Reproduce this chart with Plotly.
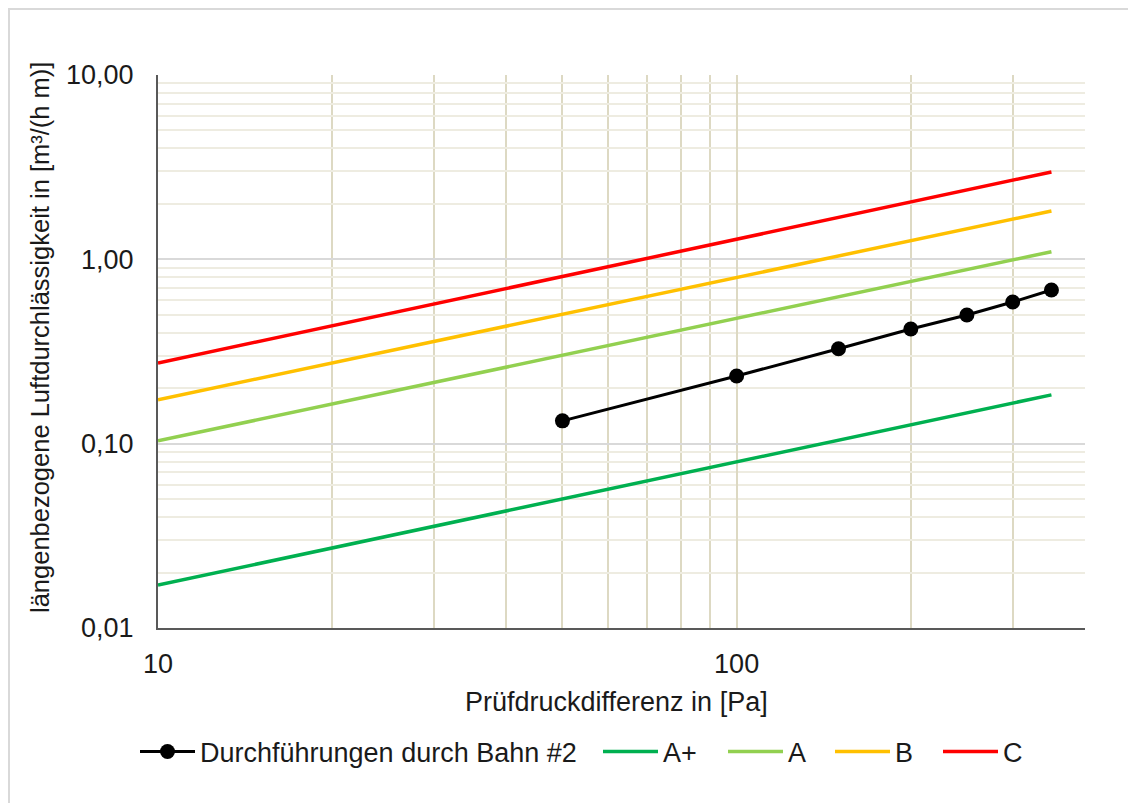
import plotly.graph_objects as go

# ---- data ----
pressure = [50, 100, 150, 200, 250, 300, 350]
durchfuehrungen = [0.133, 0.233, 0.327, 0.419, 0.499, 0.587, 0.682]

class_x = [10, 350]
class_aplus = [0.0171, 0.184]
class_a = [0.1035, 1.10]
class_b = [0.173, 1.83]
class_c = [0.274, 2.98]

series_names = ["Durchführungen durch Bahn #2", "A+", "A", "B", "C"]
series_colors = ["#000000", "#00B050", "#92D050", "#FFC000", "#FF0000"]

x_tickvals = [10, 100]
x_ticktext = ["10", "100"]
y_tickvals = [0.01, 0.1, 1, 10]
y_ticktext = ["0,01", "0,10", "1,00", "10,00"]

x_title = "Prüfdruckdifferenz in [Pa]"
y_title = "längenbezogene Luftdurchlässigkeit in [m³/(h m)]"

FONT = "Liberation Sans, Arial, sans-serif"
TXT = "#1a1a1a"

# page body has an 8px margin: work in window pixels and shift
OFF = 8
W, H = 1136 - OFF, 803 - OFF
PL, PR, PT, PB = 158, 1085, 75, 628          # plot area in window pixels
L, T = PL - OFF, PT - OFF
R, B = W - (PR - OFF), H - (PB - OFF)
pw, ph = PR - PL, PB - PT


def px(x):
    return (x - PL) / pw


def py(y):
    return (PB - y) / ph


legend_ids = ["legend", "legend2", "legend3", "legend4", "legend5"]
legend_starts = [140, 603, 728, 835, 943]      # window px of legend symbols

fig = go.Figure()
fig.add_trace(go.Scatter(x=pressure, y=durchfuehrungen, name=series_names[0],
                         mode="lines+markers", legend=legend_ids[0],
                         line=dict(color=series_colors[0], width=3),
                         marker=dict(size=15, color=series_colors[0])))
for name, col, ys, lg in zip(series_names[1:], series_colors[1:],
                             [class_aplus, class_a, class_b, class_c],
                             legend_ids[1:]):
    fig.add_trace(go.Scatter(x=class_x, y=ys, name=name, mode="lines",
                             legend=lg, line=dict(color=col, width=3.5)))

x_minor = [m * 10 ** d for d in (1, 2) for m in range(2, 10) if m * 10 ** d <= 400]
y_minor = [m * 10 ** d for d in (-2, -1, 0) for m in range(2, 10)]

fig.update_xaxes(type="log", range=[1, 2.60206], tickmode="array",
                 tickvals=x_tickvals, ticktext=x_ticktext,
                 showgrid=True, gridcolor="#DDD9C3", gridwidth=1.5,
                 minor=dict(tickmode="array", tickvals=x_minor, showgrid=True,
                            gridcolor="#DDD9C3", gridwidth=1.5, ticks=""),
                 showline=True, linecolor="#595959", linewidth=2,
                 ticks="", ticklabelstandoff=11,
                 tickfont=dict(family=FONT, size=27, color=TXT),
                 zeroline=False)
fig.update_yaxes(type="log", range=[-2, 1], tickmode="array",
                 tickvals=y_tickvals, ticktext=y_ticktext,
                 showgrid=True, gridcolor="#D9D9D9", gridwidth=1.5,
                 minor=dict(tickmode="array", tickvals=y_minor, showgrid=True,
                            gridcolor="#EEECE1", gridwidth=1.5, ticks=""),
                 showline=True, linecolor="#595959", linewidth=2,
                 ticks="", ticklabelstandoff=17,
                 tickfont=dict(family=FONT, size=27, color=TXT),
                 zeroline=False)

fig.add_annotation(text=x_title, xref="paper", yref="paper",
                   x=px(616), y=py(702), showarrow=False,
                   xanchor="center", yanchor="middle",
                   font=dict(family=FONT, size=27, color=TXT))
fig.add_annotation(text=y_title, xref="paper", yref="paper",
                   x=px(40), y=py(338), showarrow=False, textangle=-90,
                   xanchor="center", yanchor="middle",
                   font=dict(family=FONT, size=25.5, color=TXT))

fig.add_shape(type="rect", xref="paper", yref="paper",
              x0=px(OFF + 1), x1=px(1200), y0=py(860), y1=py(OFF + 1),
              line=dict(color="#D9D9D9", width=2), layer="below")

legend_common = dict(orientation="h", xanchor="left", yanchor="middle",
                     font=dict(family=FONT, size=27, color=TXT),
                     itemwidth=55, bgcolor="rgba(0,0,0,0)", borderwidth=0)
layout_legends = {}
for lg, xs in zip(legend_ids, legend_starts):
    layout_legends[lg] = dict(x=px(xs - 5), y=py(752), **legend_common)

fig.update_layout(
    width=W, height=H,
    margin=dict(l=L, r=R, t=T, b=B, autoexpand=False),
    paper_bgcolor="white", plot_bgcolor="white",
    font=dict(family=FONT, size=27, color=TXT),
    showlegend=True,
    **layout_legends,
)

fig.write_html("out.html")
